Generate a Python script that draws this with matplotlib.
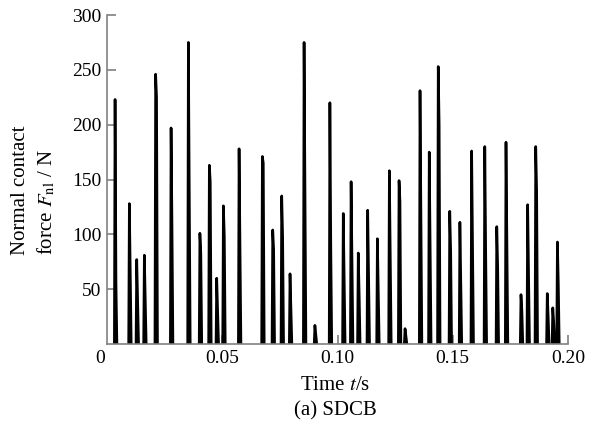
"""Normal contact force time history, SDCB case."""

import matplotlib

matplotlib.use("Agg")
import matplotlib.pyplot as plt
import numpy as np

# impact peaks: time (s), peak force (N), force on the falling shoulder (N)
impact_time = [0.0035, 0.0097, 0.0129, 0.0162, 0.0211, 0.0278, 0.0353, 0.0403, 0.0444, 0.0476,
               0.0505, 0.0573, 0.0674, 0.0719, 0.0758, 0.0794, 0.0855, 0.0902, 0.0967, 0.1025,
               0.1059, 0.1090, 0.1131, 0.1173, 0.1225, 0.1267, 0.1293, 0.1358, 0.1398, 0.1437,
               0.1487, 0.1531, 0.1582, 0.1639, 0.1691, 0.1731, 0.1796, 0.1825, 0.1860, 0.1910,
               0.1934, 0.1954]
peak_force = [223, 128, 77, 81, 246, 197, 275, 101, 163, 60,
              126, 178, 171, 104, 135, 64, 275, 17, 220, 119,
              148, 83, 122, 96, 158, 149, 14, 231, 175, 253,
              121, 111, 176, 180, 107, 184, 45, 127, 180, 46,
              33, 93]
shoulder_force = [55, 64, 38, 40, 225, 107, 130, 83, 148, 30,
                  98, 89, 165, 86, 98, 32, 140, 8, 86, 60,
                  70, 45, 61, 48, 80, 130, 7, 115, 90, 200,
                  85, 56, 88, 83, 70, 92, 30, 60, 140, 25,
                  20, 55]

x_ticks = [0.05, 0.10, 0.15, 0.20]
x_tick_labels = ["0.05", "0.10", "0.15", "0.20"]
y_ticks = [50, 100, 150, 200, 250, 300]

plt.rcParams["font.family"] = ["Liberation Serif", "DejaVu Serif"]
plt.rcParams["mathtext.fontset"] = "stix"

RISE, MID, FALL = 0.0003, 0.0004, 0.0008
t_line, f_line = [], []
for t, fp, fs in zip(impact_time, peak_force, shoulder_force):
    t_line += [t - RISE, t, t + MID, t + FALL, np.nan]
    f_line += [0, fp, fs, 0, np.nan]

fig = plt.figure(figsize=(5.93, 4.37), dpi=100)
ax = fig.add_axes([107 / 593, 1 - 344 / 437, 461 / 593, 329 / 437])
ax.plot(t_line, f_line, color="black", linewidth=1.9)

ax.set_xlim(0, 0.2)
ax.set_ylim(0, 300)
ax.set_xticks(x_ticks, labels=x_tick_labels)
ax.set_yticks(y_ticks)
ax.tick_params(direction="in", length=6.5, width=1.2, color="#808080", labelsize=14, pad=4)
for spine in ("top", "right"):
    ax.spines[spine].set_visible(False)
for spine in ("left", "bottom"):
    ax.spines[spine].set_color("#808080")
    ax.spines[spine].set_linewidth(1.2)

ax.annotate("0", xy=(0, 0), xytext=(-5, -4), textcoords="offset points",
            ha="center", va="top", fontsize=14)

fig.text(20.5 / 593, 1 - 255 / 437, "Normal contact", rotation=90, ha="center", va="bottom", fontsize=15)
fig.text(46 / 593, 1 - 255 / 437, r"force $F_{\mathrm{nl}}$ / N", rotation=90, ha="center", va="bottom", fontsize=15)
fig.text(335 / 593, 1 - 386 / 437, r"Time $t$/s", ha="center", va="center", fontsize=15)
fig.text(335 / 593, 1 - 411 / 437, "(a) SDCB", ha="center", va="center", fontsize=15)

fig.savefig("out.png", dpi=100)
plt.close(fig)
